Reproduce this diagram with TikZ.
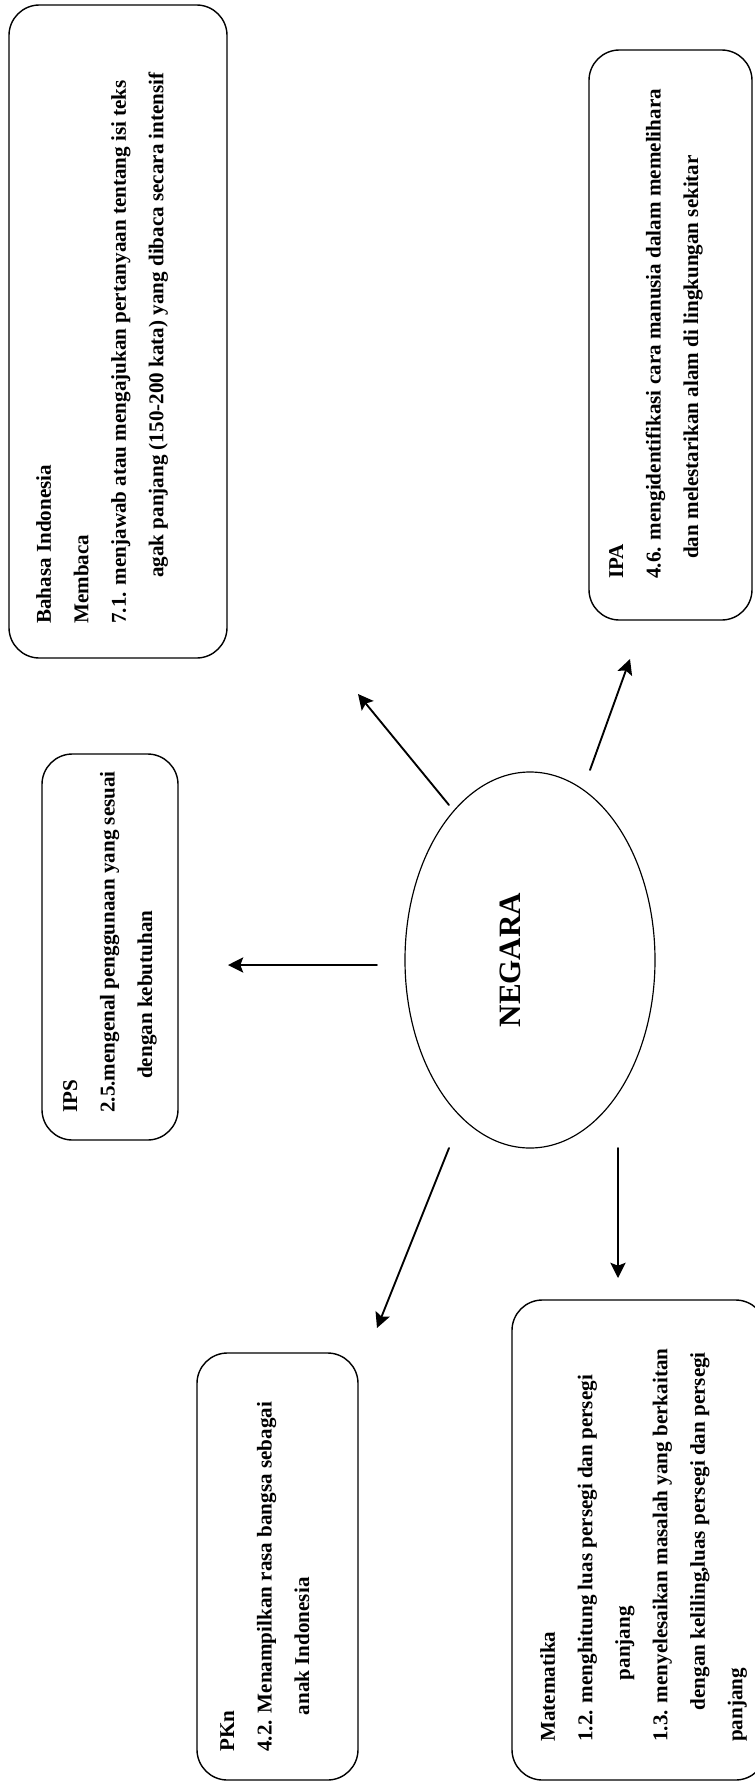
\documentclass[tikz,border=0pt]{standalone}
\usepackage{fontspec}
\setmainfont{Liberation Serif}
\usetikzlibrary{arrows.meta,shapes.geometric}

\begin{document}
\begin{tikzpicture}[x=0.03cm,y=-0.03cm,line cap=round,line join=round,
  kotak/.style={draw,rounded corners=26pt,line width=1.2pt,inner sep=0pt},
  isi/.style={rotate=90,anchor=north west,inner sep=0pt,align=left,font=\fontsize{18}{32}\selectfont\bfseries},
  panah/.style={-{Stealth[length=13pt,width=13pt,inset=2.5pt]},line width=1.6pt}]
\useasboundingbox (0,0) rectangle (755,1784);
\node[kotak,minimum width=6.54cm,minimum height=19.59cm] (bahasa) at (118,331.5) {};
\node[kotak,minimum width=4.89cm,minimum height=17.1cm] (ipa) at (670.5,335) {};
\node[kotak,minimum width=4.08cm,minimum height=11.58cm] (ips) at (110,947) {};
\node[kotak,minimum width=4.83cm,minimum height=12.81cm] (pkn) at (277.5,1566.5) {};
\node[kotak,minimum width=7.62cm,minimum height=14.4cm] (mtk) at (639,1540) {};
\node[draw,ellipse,line width=1pt,minimum width=7.5cm,minimum height=11.28cm] (negara) at (530,960) {};
\node[rotate=90,anchor=base,inner sep=0pt,font=\fontsize{26.5}{30}\selectfont\bfseries] (negaralabel) at (520,960) {NEGARA};
\node[isi] (bahasaisi) at (36,624) {Bahasa Indonesia\\
  Membaca\\
  7.1. menjawab atau mengajukan pertanyaan tentang isi teks\\
  \hspace*{1.38cm}agak panjang (150-200 kata) yang dibaca secara intensif};
\node[isi] (ipaisi) at (609,579) {IPA\\
  4.6. mengidentifikasi cara manusia dalam memelihara\\
  \hspace*{0.6cm}dan melestarikan alam di lingkungan sekitar};
\node[isi] (ipsisi) at (63,1113) {IPS\\
  2.5.mengenal penggunaan yang sesuai\\
  \hspace*{1.02cm}dengan kebutuhan};
\node[isi] (pknisi) at (220,1752) {PKn\\
  4.2. Menampilkan rasa bangsa sebagai\\
  \hspace*{1.1cm}anak Indonesia};
\node[isi] (mtkisi) at (540,1742) {Matematika\\
  1.2. menghitung luas persegi dan persegi\\
  \hspace*{1.85cm}panjang\\
  1.3. menyelesaikan masalah yang berkaitan\\
  \hspace*{0.95cm}dengan keliling,luas persegi dan persegi\\
  panjang};
\coordinate (bahasa-a) at (449,805);
\coordinate (bahasa-b) at (358,694);
\coordinate (ipa-a) at (590,770);
\coordinate (ipa-b) at (630,659);
\coordinate (ips-a) at (377,965);
\coordinate (ips-b) at (228,965);
\coordinate (pkn-a) at (449,1148);
\coordinate (pkn-b) at (377,1328);
\coordinate (mtk-a) at (618,1148);
\coordinate (mtk-b) at (618,1278);
\draw[panah] (bahasa-a) -- (bahasa-b);
\draw[panah] (ipa-a) -- (ipa-b);
\draw[panah] (ips-a) -- (ips-b);
\draw[panah] (pkn-a) -- (pkn-b);
\draw[panah] (mtk-a) -- (mtk-b);
\end{tikzpicture}
\end{document}
